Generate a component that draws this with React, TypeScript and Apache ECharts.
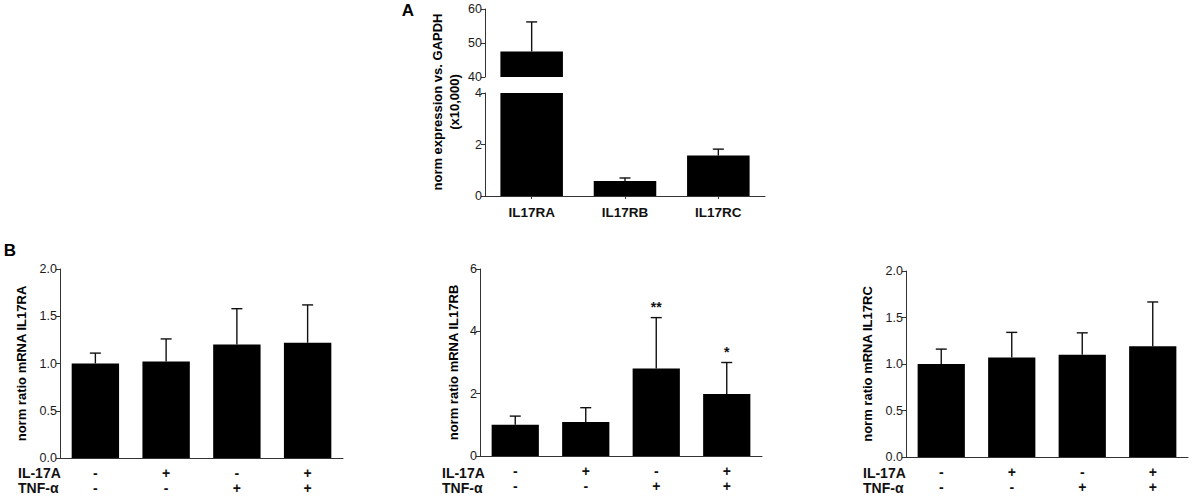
import React, { useEffect, useRef } from "react";
import * as echarts from "echarts";

// Panel A
const receptorCats = ["IL17RA", "IL17RB", "IL17RC"];
const receptorMean = [47.5, 0.58, 1.57];
const receptorErr = [8.7, 0.12, 0.25];
const aUpperTicks = [40, 60, 10]; // min, max, interval
const aLowerTicks = [0, 4, 2];

// Panel B
const conditions = ["ctrl", "IL-17A", "TNF-α", "IL-17A+TNF-α"];
const il17aSigns = ["-", "+", "-", "+"];
const tnfSigns = ["-", "-", "+", "+"];
const raMean = [1.0, 1.02, 1.2, 1.22];
const raErr = [0.11, 0.24, 0.38, 0.4];
const rbMean = [1.0, 1.09, 2.81, 1.99];
const rbErr = [0.28, 0.46, 1.63, 1.01];
const rbStars = ["", "", "**", "*"];
const rcMean = [1.0, 1.07, 1.1, 1.19];
const rcErr = [0.16, 0.27, 0.235, 0.477];

const FONT = '"Liberation Sans", Arial, sans-serif';
const AX = "#333";

function makeErrRender(stars: string[] | null) {
  return (params: any, api: any) => {
    const x = api.value(0);
    const m = api.value(1);
    const e = api.value(2);
    const base = api.coord([x, m]);
    const top = api.coord([x, m + e]);
    const hw = 5.5;
    const st = { stroke: "#111", lineWidth: 1.4 };
    const children: any[] = [
      { type: "line", shape: { x1: base[0], y1: base[1], x2: top[0], y2: top[1] }, style: st },
      { type: "line", shape: { x1: top[0] - hw, y1: top[1], x2: top[0] + hw, y2: top[1] }, style: st },
    ];
    const s = stars ? stars[params.dataIndex] : "";
    if (s) {
      children.push({
        type: "text",
        x: top[0],
        y: top[1] - 4,
        style: { text: s, textAlign: "center", textVerticalAlign: "bottom", font: `bold 14px ${FONT}`, fill: "#111" },
      });
    }
    return { type: "group", children };
  };
}

function errData(mean: number[], err: number[]) {
  return mean.map((m, i) => [i, m, err[i]]);
}

function yAxisBase(gridIndex: number, min: number, max: number, interval: number, fmt?: (v: number) => string) {
  return {
    type: "value",
    gridIndex,
    min,
    max,
    interval,
    axisLine: { show: true, lineStyle: { color: AX, width: 1 } },
    axisTick: { show: true, length: 4, lineStyle: { color: AX, width: 1 } },
    splitLine: { show: false },
    axisLabel: { color: "#1a1a1a", fontSize: 12.5, fontFamily: FONT, margin: 3, formatter: fmt },
  } as any;
}

export default function App() {
  const ref = useRef<HTMLDivElement>(null);
  useEffect(() => {
    if (!ref.current) return;
    const chart = echarts.init(ref.current, undefined, { renderer: "svg" });
    const bGrids = [
      { left: 60, top: 269, width: 283, height: 189 },
      { left: 480, top: 269, width: 282, height: 187 },
      { left: 906, top: 271, width: 282, height: 186 },
    ];
    const bTitles = ["norm ratio mRNA IL17RA", "norm ratio mRNA IL17RB", "norm ratio mRNA IL17RC"];
    const bMeans = [raMean, rbMean, rcMean];
    const bErrs = [raErr, rbErr, rcErr];
    const bStars = [null, rbStars, null];
    const bRanges = [
      [0, 2, 0.5],
      [0, 6, 2],
      [0, 2, 0.5],
    ];
    const bNameGap = [32, 20, 32];
    const grids: any[] = [
      { left: 485, top: 9, width: 280, height: 68 },
      { left: 485, top: 93, width: 280, height: 103 },
      ...bGrids,
    ];
    const xAxes: any[] = [
      { type: "category", gridIndex: 0, data: receptorCats, show: false },
      {
        type: "category",
        gridIndex: 1,
        data: receptorCats,
        axisLine: { lineStyle: { color: AX, width: 1 } },
        axisTick: { show: true, alignWithLabel: true, length: 3, lineStyle: { color: AX } },
        axisLabel: { color: "#111", fontWeight: "bold", fontSize: 13.5, fontFamily: FONT, margin: 9 },
      },
    ];
    const yAxes: any[] = [
      yAxisBase(0, aUpperTicks[0], aUpperTicks[1], aUpperTicks[2]),
      yAxisBase(1, aLowerTicks[0], aLowerTicks[1], aLowerTicks[2]),
    ];
    const series: any[] = [
      { type: "bar", xAxisIndex: 0, yAxisIndex: 0, data: receptorMean, barCategoryGap: "33%", itemStyle: { color: "#000" }, clip: true },
      { type: "bar", xAxisIndex: 1, yAxisIndex: 1, data: receptorMean, barCategoryGap: "33%", itemStyle: { color: "#000" }, clip: true },
      { type: "custom", xAxisIndex: 0, yAxisIndex: 0, data: errData(receptorMean, receptorErr), renderItem: makeErrRender(null), clip: true, z: 3 },
      { type: "custom", xAxisIndex: 1, yAxisIndex: 1, data: errData(receptorMean, receptorErr), renderItem: makeErrRender(null), clip: true, z: 3 },
    ];
    const graphics: any[] = [
      { type: "text", x: 408, y: 10, style: { text: "A", font: `bold 17px ${FONT}`, fill: "#000", textAlign: "center", textVerticalAlign: "middle" } },
      { type: "text", x: 10, y: 250, style: { text: "B", font: `bold 17px ${FONT}`, fill: "#000", textAlign: "center", textVerticalAlign: "middle" } },
      {
        type: "text",
        x: 446,
        y: 102,
        rotation: Math.PI / 2,
        style: {
          text: "norm expression vs. GAPDH\n(x10,000)",
          font: `bold 13px ${FONT}`,
          fill: "#000",
          textAlign: "center",
          textVerticalAlign: "middle",
          lineHeight: 17,
        },
      },
    ];
    const rowLabelX = [18, 442, 863];
    bGrids.forEach((g, k) => {
      const gi = k + 2;
      const [mn, mx, iv] = bRanges[k];
      xAxes.push({
        type: "category",
        gridIndex: gi,
        data: conditions,
        axisLine: { lineStyle: { color: AX, width: 1 } },
        axisTick: { show: false },
        axisLabel: {
          color: "#111",
          fontWeight: "bold",
          fontSize: 14,
          fontFamily: FONT,
          lineHeight: 15,
          margin: 7,
          interval: 0,
          formatter: (_v: string, i: number) => il17aSigns[i] + "\n" + tnfSigns[i],
        },
      });
      const y = yAxisBase(gi, mn, mx, iv, iv < 1 ? (v: number) => v.toFixed(1) : undefined);
      y.name = bTitles[k];
      y.nameLocation = "middle";
      y.nameRotate = 90;
      y.nameGap = bNameGap[k];
      y.nameTextStyle = { fontWeight: "bold", fontSize: 13, fontFamily: FONT, color: "#000" };
      yAxes.push(y);
      series.push({
        type: "bar",
        xAxisIndex: gi,
        yAxisIndex: gi,
        data: bMeans[k],
        barCategoryGap: "33%",
        itemStyle: { color: "#000" },
      });
      series.push({
        type: "custom",
        xAxisIndex: gi,
        yAxisIndex: gi,
        data: errData(bMeans[k], bErrs[k]),
        renderItem: makeErrRender(bStars[k]),
        z: 3,
      });
      graphics.push({
        type: "text",
        x: rowLabelX[k],
        y: 473,
        style: { text: "IL-17A", font: `bold 14px ${FONT}`, fill: "#111", textVerticalAlign: "middle" },
      });
      graphics.push({
        type: "text",
        x: rowLabelX[k],
        y: 488,
        style: { text: "TNF-α", font: `bold 14px ${FONT}`, fill: "#111", textVerticalAlign: "middle" },
      });
    });
    chart.setOption({
      animation: false,
      backgroundColor: "#fff",
      grid: grids,
      xAxis: xAxes,
      yAxis: yAxes,
      series,
      graphic: graphics,
    });
    return () => chart.dispose();
  }, []);
  return <div ref={ref} style={{ position: "fixed", left: 0, top: 0, width: 1192, height: 497, background: "#fff" }} />;
}
